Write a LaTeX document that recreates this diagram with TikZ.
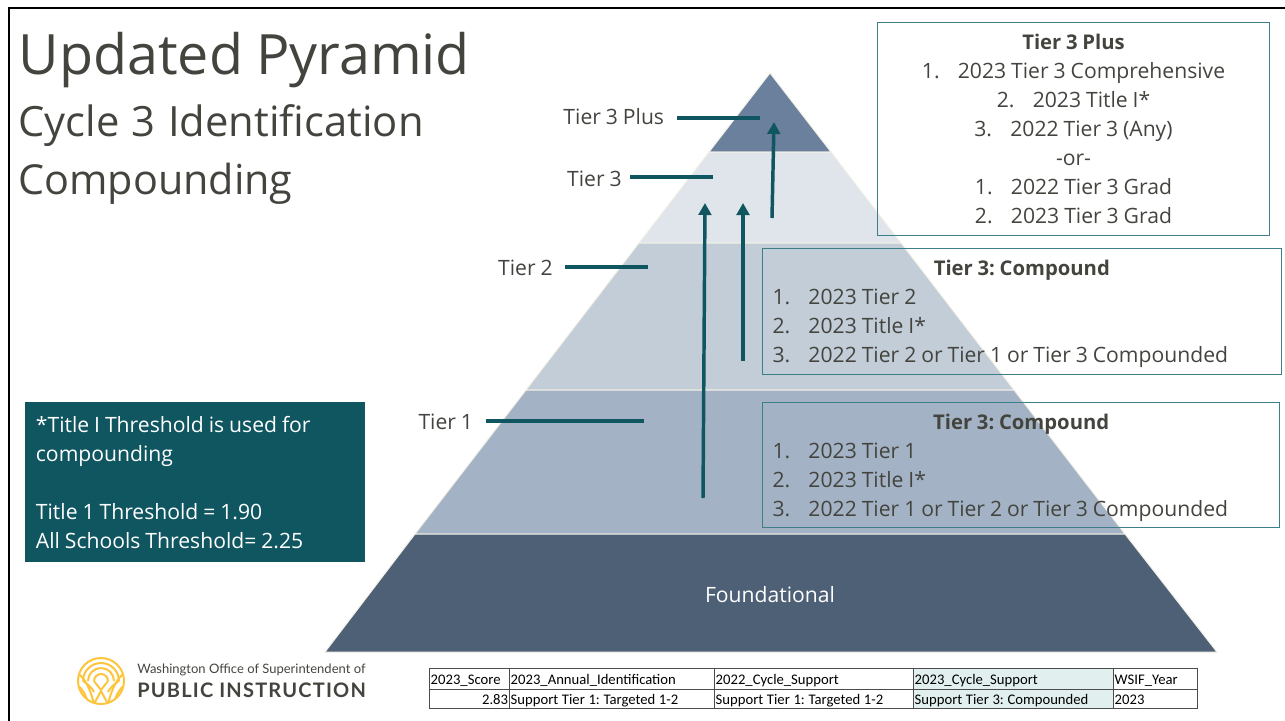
\documentclass[tikz,border=0pt]{standalone}
\usepackage{fontspec}
\setmainfont[WordSpace=0.9]{Open Sans}
\newfontfamily\subfont[WordSpace=1.15]{Open Sans}
\newfontfamily\tablefont[WordSpace=1.1]{Carlito}
\newfontfamily\logofont{Lato}
\newfontfamily\logobold[LetterSpace=6]{Lato Bold}
\usepackage{tikz}
\usetikzlibrary{arrows.meta, positioning}
\definecolor{slate}{HTML}{44443F}
\definecolor{tealdark}{HTML}{0F5660}
\definecolor{tealline}{HTML}{3C7F88}
\definecolor{layerplus}{HTML}{6A809C}
\definecolor{layerthree}{HTML}{E0E5EB}
\definecolor{layertwo}{HTML}{C2CDD8}
\definecolor{layerone}{HTML}{A3B3C5}
\definecolor{layerbase}{HTML}{4E6076}
\definecolor{cream}{HTML}{F3F1E7}
\definecolor{logoyellow}{HTML}{FDC53C}
\definecolor{cellhigh}{HTML}{E1EFEE}
\frenchspacing
\newcommand{\boxfont}{\fontsize{15.85pt}{21.75pt}\selectfont}
\newcommand{\boxhead}[1]{{\fontsize{15.2pt}{21.75pt}\selectfont\bfseries #1}}
\newcommand{\numline}[2]{\makebox[27pt][l]{#1}#2}
\tikzstyle{layer} = [draw=cream, line width=0.75pt]
\tikzstyle{tierlabel} = [anchor=east, inner xsep=9.5pt, inner ysep=0pt, text=slate, font=\boxfont]
\tikzstyle{tierline} = [tealdark, line width=2.6pt]
\tikzstyle{tierarrow} = [tealdark, line width=2.6pt, -{Triangle[width=9.5pt,length=9pt]}]
\tikzstyle{titletext} = [anchor=base west, inner sep=0pt, text=slate]
\tikzstyle{infobox} = [draw=tealline, line width=0.75pt, anchor=north west, text=slate, font=\boxfont, inner sep=0pt]
\tikzstyle{tablecell} = [draw=black!70, line width=0.6pt, anchor=north west, inner xsep=1pt, inner ysep=0pt, align=flush left, text height=12pt, text depth=3.75pt, font=\tablefont\fontsize{11pt}{12pt}\selectfont]
\tikzstyle{tablerow} = [tablecell, text height=11.25pt, text depth=3pt]

\begin{document}
\begin{tikzpicture}[x=0.75pt, y=-0.75pt]
    \useasboundingbox (0,0) rectangle (1285,721);
    \draw[line width=2.2pt] (9,721) -- (9,8) -- (1285,8);

    % pyramid
    \filldraw[layer, fill=layerplus] (770,73) -- (831,152) -- (709,152) -- cycle;
    \filldraw[layer, fill=layerthree] (709,152) -- (831,152) -- (901,243) -- (639,243) -- cycle;
    \filldraw[layer, fill=layertwo] (639,243) -- (901,243) -- (1014,390) -- (526,390) -- cycle;
    \filldraw[layer, fill=layerone] (526,390) -- (1014,390) -- (1125,534) -- (415,534) -- cycle;
    \filldraw[layer, fill=layerbase] (415,534) -- (1125,534) -- (1217,652) -- (325,652) -- cycle;
    \node[text=white, font=\boxfont, name=foundational] at (770,595) {Foundational};

    % titles
    \node[titletext, font=\fontsize{41.7pt}{42pt}\selectfont, name=title] at (18.5,74) {Updated Pyramid};
    \node[titletext, font=\subfont\fontsize{31.3pt}{31pt}\selectfont, name=subone] at (18,136) {Cycle 3 Identification};
    \node[titletext, font=\fontsize{31pt}{31pt}\selectfont, name=subtwo] at (18,194) {Compounding};

    % tier labels
    \node[tierlabel, name=lblplus] at (677,117) {Tier 3 Plus};
    \node[tierlabel, inner xsep=6pt, name=lblthree] at (630,179) {Tier 3};
    \node[tierlabel, inner xsep=9pt, name=lbltwo] at (565,268) {Tier 2};
    \node[tierlabel, name=lblone] at (486,422) {Tier 1};
    \coordinate (endplus) at (760,118);
    \coordinate (endthree) at (713,177);
    \coordinate (endtwo) at (648,267);
    \coordinate (endone) at (644,421);
    \draw[tierline] (lblplus.east |- endplus) -- (endplus);
    \draw[tierline] (lblthree.east |- endthree) -- (endthree);
    \draw[tierline] (lbltwo.east |- endtwo) -- (endtwo);
    \draw[tierline] (lblone.east |- endone) -- (endone);

    % compounding arrows
    \coordinate (startone) at (703,498);
    \coordinate (tipone) at (705,203);
    \coordinate (starttwo) at (743,361);
    \coordinate (tiptwo) at (743,203);
    \coordinate (startthree) at (772,218);
    \coordinate (tipthree) at (774,122);
    \draw[tierarrow] (startone) -- (tipone);
    \draw[tierarrow] (starttwo) -- (tiptwo);
    \draw[tierarrow] (startthree) -- (tipthree);

    % rule boxes
    \node[infobox, name=plusbox, minimum width=294pt, minimum height=159.75pt, align=flush center] at (877,22) {\rule{0pt}{12pt}\boxhead{Tier 3 Plus}\\ \numline{1.}{2023 Tier 3 Comprehensive}\\ \numline{2.}{2023 Title I*}\\ \numline{3.}{2022 Tier 3 (Any)}\\ -or-\\ \numline{1.}{2022 Tier 3 Grad}\\ \numline{2.}{2023 Tier 3 Grad}};
    \node[infobox, name=twobox, minimum width=389pt, minimum height=94.5pt, inner xsep=7.5pt, text width=374pt, align=flush left] at (762,248) {\rule{0pt}{15pt}\makebox[\linewidth][c]{\boxhead{Tier 3: Compound}}\\ \numline{1.}{2023 Tier 2}\\ \numline{2.}{2023 Title I*}\\ \numline{3.}{2022 Tier 2 or Tier 1 or Tier 3 Compounded}};
    \node[infobox, name=onebox, minimum width=388pt, minimum height=94pt, inner xsep=7.5pt, text width=373pt, align=flush left] at (762,402) {\rule{0pt}{15pt}\makebox[\linewidth][c]{\boxhead{Tier 3: Compound}}\\ \numline{1.}{2023 Tier 1}\\ \numline{2.}{2023 Title I*}\\ \numline{3.}{2022 Tier 1 or Tier 2 or Tier 3 Compounded}};

    % threshold note
    \node[anchor=north west, fill=tealdark, text=white, font=\boxfont, minimum width=255pt, minimum height=120pt, inner xsep=8pt, inner ysep=0pt, text width=239pt, align=flush left, name=notebox] at (25,402) {\rule{0pt}{12pt}*Title I Threshold is used for\\ compounding\\ ~\\ Title 1 Threshold = 1.90\\ All Schools Threshold= 2.25};

    % logo
    \begin{scope}[logoyellow, line width=1.5pt]
        \draw (101,681) circle (23);
        \begin{scope}
            \clip (101,681) circle (23);
            \draw (83,681) arc[start angle=180, end angle=360, x radius=18, y radius=18];
            \draw (88,681) arc[start angle=180, end angle=360, x radius=13, y radius=13];
            \draw (94,681) arc[start angle=180, end angle=360, x radius=7, y radius=7];
            \draw (77,673) .. controls (86,678) and (91,692) .. (94,704);
            \draw (77,685) .. controls (82,688) and (86,695) .. (88,703);
            \draw (125,673) .. controls (116,678) and (111,692) .. (108,704);
            \draw (125,685) .. controls (120,688) and (116,695) .. (114,703);
            \draw (83,681) .. controls (88,684) and (92,688) .. (94,692);
            \draw (119,681) .. controls (114,684) and (110,688) .. (108,692);
            \draw (94,704) -- (101,691) -- (108,704);
            \draw (94,681) -- (101,690) -- (108,681);
        \end{scope}
    \end{scope}
    \node[anchor=base west, inner sep=0pt, text=slate, font=\logofont\fontsize{9.75pt}{10pt}\selectfont, name=logotop] at (137,673) {Washington Office of Superintendent of};
    \node[anchor=base west, inner sep=0pt, text=slate, font=\logobold\fontsize{15pt}{16pt}\selectfont, name=logobottom] at (137,697) {PUBLIC INSTRUCTION};

    % data table
    \node[tablecell, text width=58pt, name=headscore] at (429,668) {2023\_Score};
    \node[tablecell, text width=151.75pt, name=headannual] at (509,668) {2023\_Annual\_Identification};
    \node[tablecell, text width=147.25pt, name=headold] at (714,668) {2022\_Cycle\_Support};
    \node[tablecell, text width=148pt, fill=cellhigh, name=headnew] at (913,668) {2023\_Cycle\_Support};
    \node[tablecell, text width=61pt, name=headyear] at (1113,668) {WSIF\_Year};
    \node[tablerow, text width=58pt, align=flush right, name=valscore] at (429,689) {2.83};
    \node[tablerow, text width=151.75pt, name=valannual] at (509,689) {Support Tier 1: Targeted 1-2};
    \node[tablerow, text width=147.25pt, name=valold] at (714,689) {Support Tier 1: Targeted 1-2};
    \node[tablerow, text width=148pt, fill=cellhigh, name=valnew] at (913,689) {Support Tier 3: Compounded};
    \node[tablerow, text width=61pt, name=valyear] at (1113,689) {2023};
\end{tikzpicture}
\end{document}
